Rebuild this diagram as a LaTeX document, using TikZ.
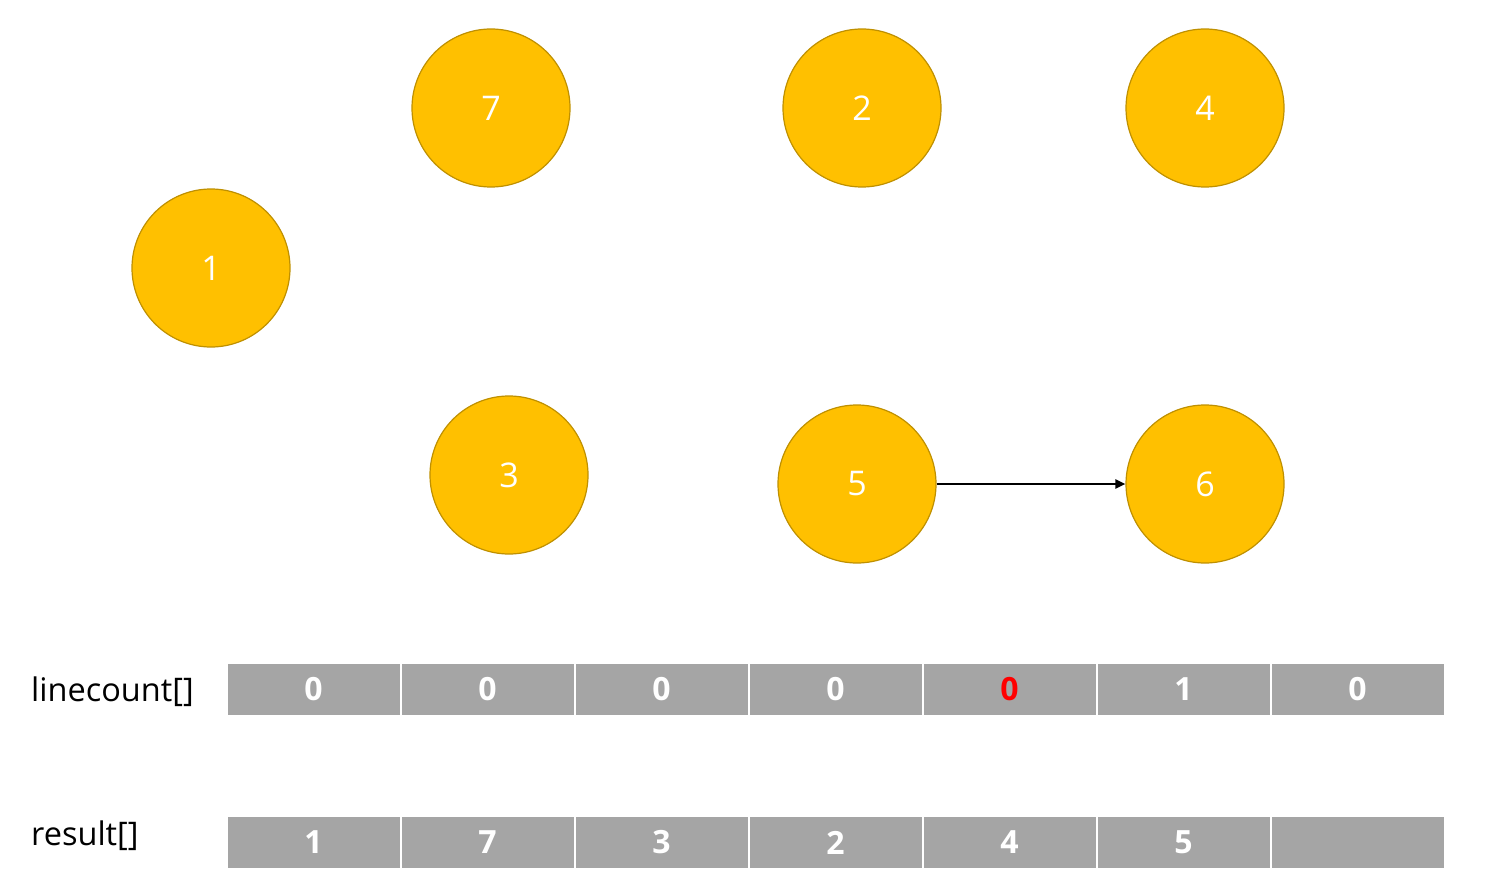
\documentclass[tikz,border=0pt]{standalone}
\usepackage{fontspec}
\setmainfont{Open Sans}
\usetikzlibrary{arrows.meta}
\definecolor{gold}{HTML}{FFC000}
\definecolor{golddark}{HTML}{BF9000}
\definecolor{cellgray}{HTML}{A5A5A5}
\tikzset{
  vert/.style={circle, fill=gold, draw=golddark, line width=1.2pt, minimum size=158pt, inner sep=0pt, text=white, font=\fontsize{34}{34}\selectfont},
  cell/.style={rectangle, fill=cellgray, draw=white, line width=2pt, minimum width=174pt, minimum height=53pt, inner sep=0pt, text=white, font=\fontsize{32}{32}\selectfont\bfseries},
  lbl/.style={anchor=west, inner sep=0pt, font=\fontsize{32.5}{32.5}\selectfont},
}
\begin{document}
\begin{tikzpicture}[x=1pt,y=-1pt]
\useasboundingbox (0,0) rectangle (1488,888);
\node[vert] (v7) at (491,108) {7};
\node[vert] (v2) at (862,108) {2};
\node[vert] (v4) at (1205,108) {4};
\node[vert] (v1) at (211,268) {1};
\node[vert] (v3) at (509,475) {3};
\node[vert] (v5) at (857,484) {5};
\node[vert] (v6) at (1205,484) {6};
\draw[line width=2pt, -{Triangle[length=10pt,width=9pt]}] (v5) -- (v6);

\node[lbl] (l1) at (31,692) {linecount[]};
\node[lbl] (l2) at (31,836) {result[]};

\foreach \v [count=\i from 0] in {0,0,0,0,{\textcolor{red}{0}},1,0} {
  \node[cell] (a\i) at (313.5+\i*174,689.5) {\v};
}
\foreach \v [count=\i from 0] in {1,7,3,2,4,5,{}} {
  \node[cell] (b\i) at (313.5+\i*174,842.5) {\v};
}
\end{tikzpicture}
\end{document}
